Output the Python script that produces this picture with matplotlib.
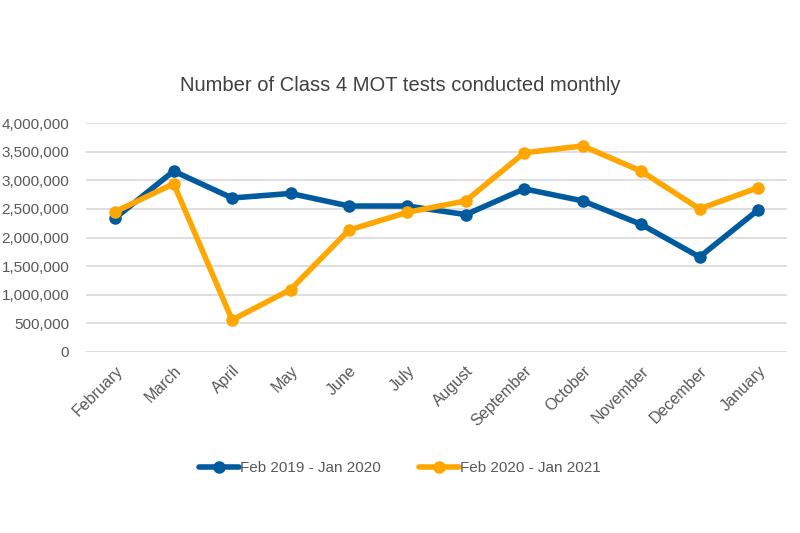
import matplotlib
matplotlib.use("Agg")
import matplotlib.pyplot as plt
from matplotlib.ticker import FuncFormatter

months = ["February", "March", "April", "May", "June", "July", "August",
          "September", "October", "November", "December", "January"]
series_2019 = [2340000, 3160000, 2690000, 2770000, 2550000, 2550000, 2400000,
               2850000, 2640000, 2230000, 1660000, 2480000]
series_2020 = [2450000, 2940000, 560000, 1090000, 2130000, 2440000, 2640000,
               3480000, 3600000, 3160000, 2500000, 2870000]
labels = ["Feb 2019 - Jan 2020", "Feb 2020 - Jan 2021"]
title = "Number of Class 4 MOT tests conducted monthly"

plt.rcParams['font.family'] = ['Liberation Sans', 'DejaVu Sans']

fig = plt.figure(figsize=(8, 5.33), dpi=100)
ax = fig.add_axes([0.1075, 0.3396, 0.8765, 0.4296])

x = list(range(len(months)))
ax.plot(x, series_2019, color="#005B9E", lw=4, marker="o", ms=8, label=labels[0],
        solid_capstyle="round", zorder=3)
ax.plot(x, series_2020, color="#FFA600", lw=4, marker="o", ms=8, label=labels[1],
        solid_capstyle="round", zorder=3)

ax.set_xlim(-0.5, len(months) - 0.5)
ax.set_ylim(0, 4000000)
ax.set_yticks(range(0, 4000001, 500000))
ax.yaxis.set_major_formatter(FuncFormatter(lambda v, p: f"{int(v):,}"))
ax.set_xticks(x)
ax.set_xticklabels(months, rotation=45, ha="right", rotation_mode="anchor",
                   fontsize=11.5, color="#595959")
ax.tick_params(axis="y", labelsize=11, labelcolor="#595959", length=0, pad=12)
ax.tick_params(axis="x", length=0, pad=8)
ax.grid(axis="y", color="#D9D9D9", lw=1.2)
ax.set_axisbelow(True)
for s in ax.spines.values():
    s.set_visible(False)

fig.text(0.5, 0.84, title, ha="center", va="center", fontsize=14.5, color="#404040")
fig.legend(loc="center", bbox_to_anchor=(0.5, 0.122), ncol=2, frameon=False,
           fontsize=11, labelcolor="#595959", handlelength=2.6, handletextpad=0.1,
           columnspacing=2.5)

fig.savefig("out.png", dpi=100)
